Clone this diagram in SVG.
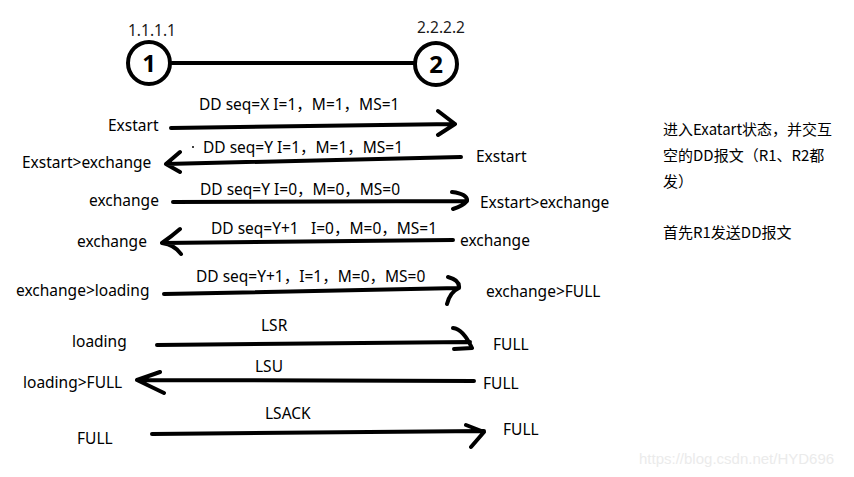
<svg xmlns="http://www.w3.org/2000/svg" width="854" height="477" viewBox="0 0 854 477">
<style>
text{font-family:"Noto Sans","Noto Sans CJK SC",sans-serif;font-size:15.5px;fill:#000}
.cj{font-family:"Noto Sans CJK SC","Noto Sans",sans-serif;font-size:15px}
.ip{fill:#1a1a1a}
.dg{font-size:24px;font-weight:bold}
.ln{fill:none;stroke:#000;stroke-width:4;stroke-linecap:round;stroke-linejoin:round}
.nd{fill:#fff;stroke:#000;stroke-width:4}
.wm{fill:#ebebeb;font-family:"Liberation Sans",sans-serif;font-size:15px}
</style>
<rect width="854" height="477" fill="#fff"/>
<g id="connectors">
<line class="ln" x1="172" y1="63" x2="414" y2="63"/>
<path class="ln" d="M171 128 L455 124 M438 111 L455 124 L438 135"/>
<path class="ln" d="M461 157 L166 164 M180 152 L166 164 L180 172"/>
<path class="ln" d="M173 202 L467 201 M452 192 Q468 194 467 201 Q463 206 453 209"/>
<path class="ln" d="M453 240 L162 243 M180 229 Q172 236 162 243 Q175 245 181 254"/>
<path class="ln" d="M164 294 L459 288 M448 277 Q460 280 459 288 Q450 292 447 304"/>
<path class="ln" d="M157 345 L470 342 M453 328 Q463 329 472 348 L454 349"/>
<path class="ln" d="M474 381 L137 380 M160 372 L137 380 L164 393"/>
<path class="ln" d="M152 434 L484 431 M466 425 L484 432 L471 447"/>
</g>
<g id="node1">
<circle class="nd" cx="149" cy="63" r="21"/>
<text class="dg" x="149" y="72" text-anchor="middle">1</text>
<text class="ip" x="128" y="36">1.1.1.1</text>
</g>
<g id="node2">
<circle class="nd" cx="436" cy="64" r="21"/>
<text class="dg" x="436" y="73" text-anchor="middle">2</text>
<text class="ip" x="417" y="33">2.2.2.2</text>
</g>
<g id="labels">
<text x="199" y="110">DD seq=X I=1，M=1，MS=1</text>
<text x="108" y="131">Exstart</text>
<circle cx="193" cy="147" r="1" fill="#000"/>
<text x="203" y="153">DD seq=Y I=1，M=1，MS=1</text>
<text x="22" y="168">Exstart&gt;exchange</text>
<text x="476" y="162">Exstart</text>
<text x="200" y="195">DD seq=Y I=0，M=0，MS=0</text>
<text x="89" y="206">exchange</text>
<text x="480" y="208">Exstart&gt;exchange</text>
<text x="211" y="234">DD seq=Y+1<tspan x="311">I=0，M=0，MS=1</tspan></text>
<text x="77" y="247">exchange</text>
<text x="460" y="246">exchange</text>
<text x="196" y="282">DD seq=Y+1，I=1，M=0，MS=0</text>
<text x="16" y="296">exchange&gt;loading</text>
<text x="486" y="297">exchange&gt;FULL</text>
<text x="261" y="331">LSR</text>
<text x="72" y="347">loading</text>
<text x="493" y="350">FULL</text>
<text x="255" y="372">LSU</text>
<text x="23" y="388">loading&gt;FULL</text>
<text x="483" y="389">FULL</text>
<text x="265" y="419">LSACK</text>
<text x="77" y="444">FULL</text>
<text x="503" y="435">FULL</text>
</g>
<g id="notes">
<text class="cj" x="663" y="135">进入Exatart状态，并交互</text>
<text class="cj" x="663" y="161">空的DD报文（R1、R2都</text>
<text class="cj" x="663" y="187">发）</text>
<text class="cj" x="663" y="238">首先R1发送DD报文</text>
</g>
<text class="wm" x="639" y="464">https://blog.csdn.net/HYD696</text>
</svg>
